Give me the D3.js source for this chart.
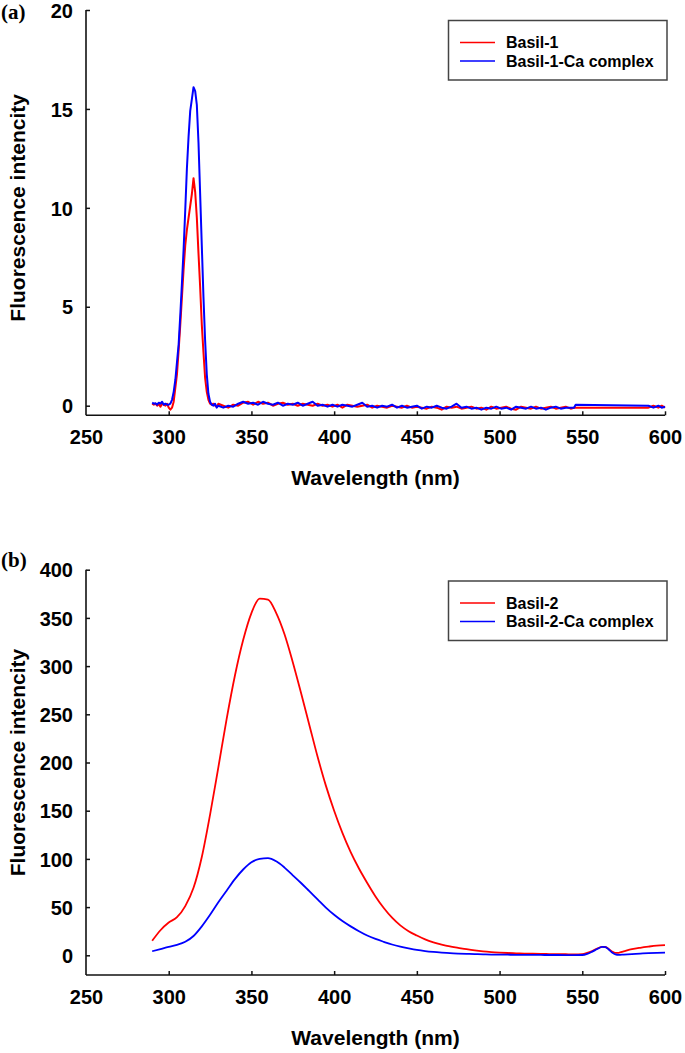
<!DOCTYPE html>
<html><head><meta charset="utf-8">
<script src="https://cdn.jsdelivr.net/npm/d3@7/dist/d3.min.js"></script>
<style>
html,body{margin:0;padding:0;background:#fff;}
svg{display:block;}
text{font-family:"Liberation Sans",Arial,sans-serif;font-weight:bold;fill:#000;}
</style></head>
<body>
<svg id="chart" width="685" height="1053"></svg>
<script>
// ---------- DATA ----------
const xTicks = [250, 300, 350, 400, 450, 500, 550, 600];
const yTicksA = [0, 5, 10, 15, 20];
const yTicksB = [0, 50, 100, 150, 200, 250, 300, 350, 400];
const legendA = ["Basil-1", "Basil-1-Ca complex"];
const legendB = ["Basil-2", "Basil-2-Ca complex"];

// panel (a) wavelength grid (nm)
const wlA = [...d3.range(290, 331, 1), ...d3.range(333, 544, 3), 545, 546, 590, 593, 596, 598, 600];
const basil1 = [
  0.1,0.05,0.1,0.0,0.08,-0.05,0.1,0.05,0.0,0.1,
  -0.1,-0.2,-0.1,0.2,0.9,1.6,2.8,4.1,5.5,6.9,
  8.1,8.9,9.5,10.1,10.7,11.5,10.8,9.5,7.7,6.0,
  4.1,2.7,1.4,0.7,0.3,0.1,0.05,0.1,0.0,-0.05,
  0.1,
  0.0,-0.1,0.05,0.0,0.15,0.2,0.05,0.2,0.1,0.15,
  0.0,0.1,0.15,0.05,0.1,0.0,0.1,0.05,0.0,0.1,
  0.0,0.05,-0.05,0.05,-0.1,0.05,0.0,-0.05,0.0,0.05,
  -0.1,0.0,-0.05,-0.1,0.0,-0.05,-0.1,0.0,-0.1,-0.05,
  -0.1,-0.15,-0.05,-0.1,-0.2,-0.05,-0.1,-0.05,-0.15,-0.1,
  -0.05,-0.15,-0.1,-0.2,-0.05,-0.15,-0.1,-0.05,-0.15,-0.2,
  -0.05,-0.1,-0.15,-0.05,-0.15,-0.1,-0.05,-0.15,-0.1,-0.05,
  -0.15,
  -0.1,-0.1,-0.1,0.0,-0.1,0.0,-0.1
];
const basil1Ca = [
  0.15,0.1,0.12,0.05,0.15,0.1,0.2,0.05,0.1,0.05,
  0.05,0.1,0.3,0.7,1.3,2.2,3.1,4.6,6.2,7.9,
  9.9,12.0,13.6,14.9,15.5,16.1,15.9,15.2,13.3,10.7,
  8.1,5.5,3.3,1.6,0.6,0.2,0.05,0.0,0.1,-0.1,
  0.0,
  -0.1,0.0,-0.05,0.1,0.2,0.1,0.15,0.05,0.2,0.1,
  0.05,0.15,0.0,0.1,0.05,0.15,0.0,0.1,0.2,0.0,
  0.05,-0.05,0.05,-0.05,0.05,0.0,-0.05,0.05,0.15,-0.05,
  0.0,-0.1,0.0,-0.05,0.05,-0.1,0.0,-0.1,-0.05,0.0,
  -0.15,-0.05,-0.1,0.0,-0.1,-0.15,-0.05,0.1,-0.1,-0.05,
  -0.15,-0.1,-0.2,-0.1,-0.15,-0.05,-0.15,-0.1,-0.2,-0.05,
  -0.1,-0.15,-0.05,-0.15,-0.1,-0.2,-0.1,-0.05,-0.15,-0.1,
  -0.1,
  -0.1,0.05,0.0,-0.1,0.0,-0.1,-0.05
];

// panel (b) wavelength grid (nm)
const wlB = [...d3.range(290, 550, 5), 550, 553, 556, 559, 562, 564, 566, 568, 570, 572, 575, 580, 585, 590, 595, 600];
const basil2 = [
  15,26,34,39.5,51,70,102,146,195,245,
  290,327,355,370,369,355,333,304,272,239,
  206,176,150,127,107,90,75,61,49,39,
  31,25,20.5,16.5,13.5,11.2,9.3,7.8,6.3,5,
  4,3.3,2.8,2.4,2.1,1.8,1.6,1.4,1.3,1.2,
  1.1,1.0,
  1.2,2.5,4.5,7,8.8,8.6,6.5,4.0,2.5,2.6,4,6.3,7.8,9,10,10.5
];
const basil2Ca = [
  4.2,6.5,8.8,10.8,14,20,30,42,55,67,
  79,89,96.5,100,100.8,97.5,91,83,75,66.5,
  58,49.5,42,35.5,30,25,20.5,17,14,11.2,
  9,7.2,5.6,4.4,3.5,2.8,2.2,1.8,1.5,1.2,
  1.0,0.8,0.7,0.6,0.5,0.45,0.4,0.35,0.3,0.3,
  0.25,0.2,
  0.3,1.5,3.8,6.5,8.8,8.5,6,3,1,0.5,0.8,1.3,1.8,2.3,2.6,2.7
];

// ---------- DRAW ----------
const svg = d3.select("#chart");
const RED = "#ff0000", BLUE = "#0000ff";

function panel(o) {
  const g = svg.append("g");
  const x = d3.scaleLinear().domain([250, 600]).range([86, 665]);
  const y = d3.scaleLinear().domain([0, o.ymax]).range([o.y0, o.yTop]);

  // x axis
  const xa = g.append("g").attr("transform", `translate(0,${o.axisY})`)
    .call(d3.axisBottom(x).tickValues(xTicks).tickSize(-4).tickSizeOuter(0));
  xa.select(".domain").remove();
  xa.selectAll("line").attr("stroke", "#111").attr("stroke-width", 1.5);
  xa.selectAll("text").attr("y", 29).attr("dy", 0).style("font-size", "20px")
    .style("font-family", '"Liberation Sans",Arial,sans-serif').style("font-weight", "bold").attr("fill", "#000");
  xa.selectAll(".tick").filter(d => d === 250).select("line").remove();

  // y axis
  const ya = g.append("g").attr("transform", `translate(86,0)`)
    .call(d3.axisLeft(y).tickValues(o.yTicks).tickSize(-4).tickSizeOuter(0));
  ya.select(".domain").remove();
  ya.selectAll("line").attr("stroke", "#111").attr("stroke-width", 1.5);
  ya.selectAll("text").attr("x", -13).attr("dy", "0.36em").style("font-size", "20px")
    .style("font-family", '"Liberation Sans",Arial,sans-serif').style("font-weight", "bold").attr("fill", "#000");

  // axis lines
  g.append("line").attr("x1", 86).attr("x2", 665).attr("y1", o.axisY).attr("y2", o.axisY)
    .attr("stroke", "#111").attr("stroke-width", 1.6);
  g.append("line").attr("x1", 86).attr("x2", 86).attr("y1", o.yTop).attr("y2", o.axisY)
    .attr("stroke", "#111").attr("stroke-width", 1.6);

  // series
  const line = d3.line().x(d => x(d[0])).y(d => y(d[1])).curve(o.curve);
  o.series.forEach(s => {
    g.append("path").datum(o.wl.map((w, i) => [w, s.values[i]]))
      .attr("d", line).attr("fill", "none").attr("stroke", s.color)
      .attr("stroke-width", o.sw).attr("stroke-linejoin", "round");
  });

  // titles
  g.append("text").attr("x", 375.5).attr("y", o.axisY + 70).attr("text-anchor", "middle")
    .style("font-size", "21px").text("Wavelength (nm)");
  const cy = (o.yTop + o.y0) / 2;
  g.append("text").attr("transform", `translate(25,${cy}) rotate(-90)`).attr("text-anchor", "middle")
    .style("font-size", "21px").text("Fluorescence intencity");

  // panel label
  g.append("text").attr("x", 1).attr("y", o.labelY)
    .style("font-family", '"Liberation Serif","Times New Roman",serif').style("font-size", "21px")
    .text(o.label);

  // legend
  const L = o.legend;
  g.append("rect").attr("x", 448.5).attr("y", L.top).attr("width", 218.5).attr("height", 59.5)
    .attr("fill", "#fff").attr("stroke", "#444").attr("stroke-width", 1.5);
  L.names.forEach((n, i) => {
    const ly = L.top + 22 + i * 18.5;
    g.append("line").attr("x1", 460).attr("x2", 495).attr("y1", ly).attr("y2", ly)
      .attr("stroke", o.series[i].color).attr("stroke-width", 1.6);
    g.append("text").attr("x", 506).attr("y", ly + 5.5).style("font-size", "16px").text(n);
  });
}

panel({
  ymax: 20, y0: 405.7, yTop: 10, axisY: 415.3, yTicks: yTicksA,
  wl: wlA, curve: d3.curveLinear, sw: 2,
  series: [{values: basil1, color: RED}, {values: basil1Ca, color: BLUE}],
  label: "(a)", labelY: 19,
  legend: {top: 20.5, names: legendA}
});

panel({
  ymax: 400, y0: 955.3, yTop: 569.7, axisY: 975, yTicks: yTicksB,
  wl: wlB, curve: d3.curveMonotoneX, sw: 1.8,
  series: [{values: basil2, color: RED}, {values: basil2Ca, color: BLUE}],
  label: "(b)", labelY: 567,
  legend: {top: 581, names: legendB}
});
</script>
</body></html>
